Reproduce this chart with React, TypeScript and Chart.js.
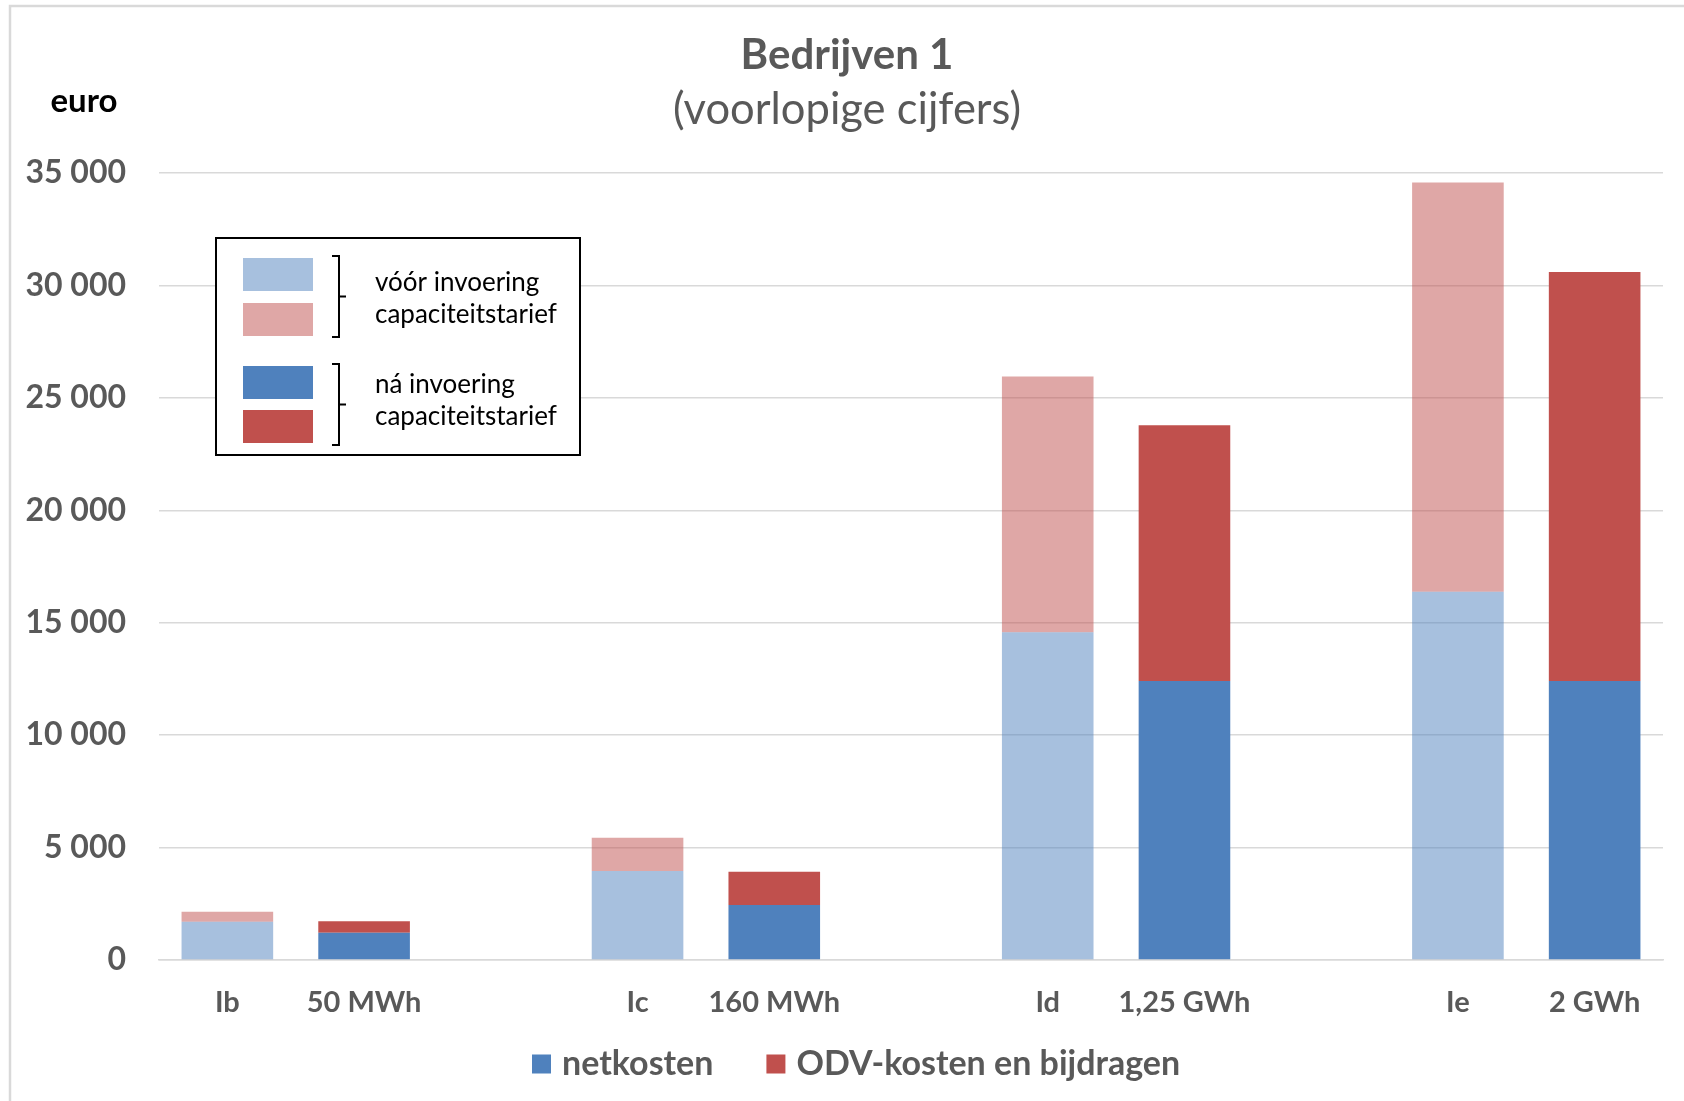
import { useEffect, useRef } from 'react';
import { Chart, registerables } from 'chart.js';

Chart.register(...registerables);

// Categories: pairs of "before" / "after" columns, separated by an empty slot
const categories = ['Ib', '50 MWh', '', 'Ic', '160 MWh', '', 'Id', '1,25 GWh', '', 'Ie', '2 GWh'];
// true = situation vóór invoering capaciteitstarief (drawn in the lighter tint)
const beforeFlags = [true, false, false, true, false, false, true, false, false, true, false];
const netkosten = [1700, 1210, null, 3960, 2450, null, 14580, 12410, null, 16380, 12410];
const odvKosten = [450, 510, null, 1480, 1470, null, 11370, 11370, null, 18200, 18190];
const seriesNames = ['netkosten', 'ODV-kosten en bijdragen'];
const yMin = 0;
const yMax = 35000;
const yStep = 5000;
const titleText = 'Bedrijven 1';
const subtitleText = '(voorlopige cijfers)';
const unitText = 'euro';
const noteGroups = [
  ['vóór invoering', 'capaciteitstarief'],
  ['ná invoering', 'capaciteitstarief'],
];

const BLUE = '#4F81BD';
const RED = '#C0504D';
const BLUE_LIGHT = 'rgba(79,129,189,0.5)';
const RED_LIGHT = 'rgba(192,80,77,0.5)';
const GREY_TEXT = '#595959';
const GRID = '#D9D9D9';
const FONT = 'Lato, "Open Sans", sans-serif';
const seriesColors = [BLUE, RED];

const fmt = (v: number) => String(v).replace(/\B(?=(\d{3})+(?!\d))/g, ' ');

// Frame, titles, unit label, explanatory box with braces and the series legend
const overlayPlugin = {
  id: 'overlay',
  afterDraw(chart: any) {
    const ctx: CanvasRenderingContext2D = chart.ctx;
    ctx.save();

    // light outer frame
    ctx.strokeStyle = GRID;
    ctx.lineWidth = 2.5;
    ctx.beginPath();
    ctx.moveTo(10, chart.height + 5);
    ctx.lineTo(10, 6);
    ctx.lineTo(chart.width + 5, 6);
    ctx.stroke();

    // titles
    ctx.fillStyle = GREY_TEXT;
    ctx.textAlign = 'center';
    ctx.textBaseline = 'middle';
    ctx.font = `bold 42px ${FONT}`;
    ctx.fillText(titleText, 847, 55);
    ctx.font = `43.5px ${FONT}`;
    ctx.fillText(subtitleText, 847, 110);

    // unit label
    ctx.fillStyle = '#000';
    ctx.font = `bold 33px ${FONT}`;
    ctx.fillText(unitText, 84, 101);

    // explanatory box
    const bx = 216, by = 238, bw = 364, bh = 217;
    ctx.fillStyle = '#fff';
    ctx.fillRect(bx, by, bw, bh);
    ctx.strokeStyle = '#000';
    ctx.lineWidth = 2;
    ctx.strokeRect(bx, by, bw, bh);

    const swatches = [
      { y: 258, c: BLUE_LIGHT },
      { y: 303, c: RED_LIGHT },
      { y: 366, c: BLUE },
      { y: 410, c: RED },
    ];
    swatches.forEach((s) => {
      ctx.fillStyle = s.c;
      ctx.fillRect(243, s.y, 70, 33);
    });

    const brace = (x: number, top: number, bottom: number) => {
      const mid = (top + bottom) / 2;
      ctx.beginPath();
      ctx.moveTo(x - 7, top);
      ctx.lineTo(x, top);
      ctx.lineTo(x, bottom);
      ctx.lineTo(x - 7, bottom);
      ctx.moveTo(x, mid);
      ctx.lineTo(x + 7, mid);
      ctx.stroke();
    };
    ctx.strokeStyle = '#000';
    ctx.lineWidth = 2;
    brace(339, 256, 337);
    brace(339, 364, 445);

    ctx.fillStyle = '#000';
    ctx.font = `26px ${FONT}`;
    ctx.textAlign = 'left';
    const lineY = [[283, 315], [385, 417]];
    noteGroups.forEach((g, gi) => {
      g.forEach((t, li) => ctx.fillText(t, 375, lineY[gi][li]));
    });

    // series legend below the axis
    ctx.font = `bold 34px ${FONT}`;
    let x = 532;
    const ly = 1064;
    seriesNames.forEach((name, i) => {
      ctx.fillStyle = seriesColors[i];
      ctx.fillRect(x, ly - 9.5, 19, 19);
      ctx.fillStyle = GREY_TEXT;
      ctx.fillText(name, x + 30, ly);
      x += 30 + ctx.measureText(name).width + 53;
    });

    ctx.restore();
  },
};

export default function App() {
  const ref = useRef<HTMLCanvasElement>(null);

  useEffect(() => {
    if (!ref.current) return;
    Chart.defaults.font.family = FONT;

    const chart = new Chart(ref.current, {
      type: 'bar',
      data: {
        labels: categories,
        datasets: [
          {
            label: seriesNames[0],
            data: netkosten,
            backgroundColor: beforeFlags.map((b) => (b ? BLUE_LIGHT : BLUE)),
            borderWidth: 0,
          },
          {
            label: seriesNames[1],
            data: odvKosten,
            backgroundColor: beforeFlags.map((b) => (b ? RED_LIGHT : RED)),
            borderWidth: 0,
          },
        ],
      },
      options: {
        responsive: false,
        animation: false,
        devicePixelRatio: 1,
        categoryPercentage: 1,
        barPercentage: 0.67,
        layout: { padding: { left: 0, right: 21, top: 173, bottom: 0 } },
        scales: {
          x: {
            stacked: true,
            grid: { display: false, drawTicks: false },
            border: { display: true, color: GRID, width: 1.5 },
            ticks: {
              color: GREY_TEXT,
              font: { size: 29, weight: 'bold' },
              padding: 25,
              maxRotation: 0,
              autoSkip: false,
            },
            afterFit: (scale: any) => {
              scale.height = 141;
            },
          },
          y: {
            stacked: true,
            min: yMin,
            max: yMax,
            grid: { color: GRID, lineWidth: 1.5, drawTicks: false },
            border: { display: false },
            ticks: {
              stepSize: yStep,
              color: GREY_TEXT,
              font: { size: 32, weight: 'bold' },
              padding: 33,
              callback: (v: any) => fmt(Number(v)),
            },
            afterFit: (scale: any) => {
              scale.width = 159;
            },
          },
        },
        plugins: {
          title: { display: false },
          subtitle: { display: false },
          legend: { display: false },
          tooltip: { enabled: false },
        },
      },
      plugins: [overlayPlugin],
    } as any);

    return () => chart.destroy();
  }, []);

  return (
    <div style={{ position: 'absolute', left: 0, top: 0, width: 1684, height: 1101, background: '#fff' }}>
      <canvas ref={ref} width={1684} height={1101} style={{ display: 'block', width: 1684, height: 1101 }} />
    </div>
  );
}
